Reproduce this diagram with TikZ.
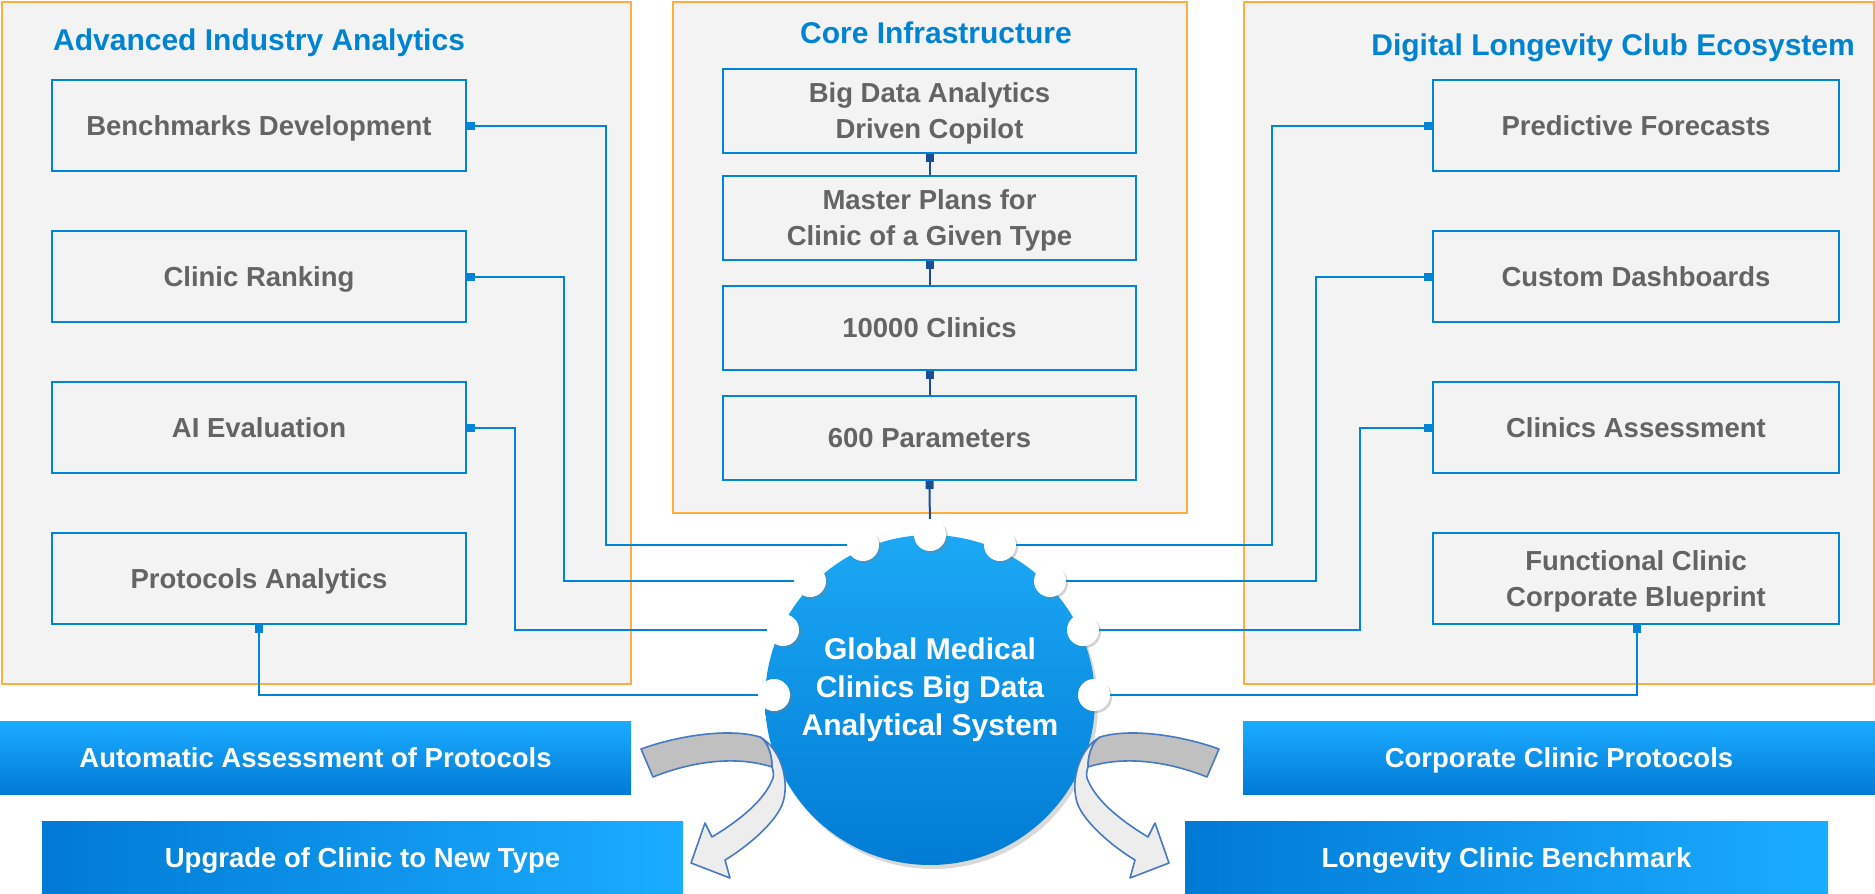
\documentclass[tikz,border=0pt]{standalone}
\usepackage{fontspec}
\setmainfont{Liberation Sans}
\usetikzlibrary{arrows.meta,shadows,shadings,calc}
\definecolor{panelfill}{RGB}{243,243,243}
\definecolor{panelline}{RGB}{255,172,64}
\definecolor{boxline}{RGB}{0,132,215}
\definecolor{titleblue}{RGB}{0,132,210}
\definecolor{textgray}{RGB}{100,100,100}
\definecolor{connblue}{RGB}{0,132,215}
\definecolor{coreblue}{RGB}{25,78,148}
\definecolor{lightblue}{RGB}{27,172,255}
\definecolor{darkblue}{RGB}{0,122,212}
\definecolor{hubtop}{RGB}{28,168,245}
\definecolor{hubbot}{RGB}{0,124,212}
\definecolor{arrowline}{RGB}{70,122,196}
\definecolor{backgray}{RGB}{192,192,192}
\definecolor{frontgray}{RGB}{237,237,237}
\begin{document}
\begin{tikzpicture}[x=1pt,y=-1pt,
  panel/.style={draw=panelline, fill=panelfill, line width=2pt},
  ibox/.style={draw=boxline, fill=panelfill, line width=2pt, minimum height=91pt,
    inner sep=0pt, align=center, text=textgray, text depth=0pt,
    font=\bfseries\fontsize{27.5}{36}\selectfont},
  cbox/.style={ibox, minimum width=413pt, minimum height=84pt},
  lbox/.style={ibox, minimum width=414pt},
  rbox/.style={ibox, minimum width=406pt},
  paneltitle/.style={inner sep=0pt, text=titleblue, font=\bfseries\fontsize{30}{36}\selectfont},
  conn/.style={draw=connblue, line width=2pt, -{Square[length=8pt,width=8pt]}},
  cconn/.style={draw=coreblue, line width=2pt, -{Square[length=8pt,width=8pt]}},
  wdot/.style={circle, fill=white, draw=none, minimum size=32pt, inner sep=0pt,
    drop shadow={shadow xshift=2pt, shadow yshift=-2pt, opacity=0.35}},
  banner/.style={draw=none, minimum height=73pt, inner sep=0pt, text=white, text depth=0pt,
    font=\bfseries\fontsize{27.5}{34}\selectfont},
  bandline/.style={draw=arrowline, line width=1.6pt, line join=round}
]
\useasboundingbox (0,0) rectangle (1875,894);

% panels
\draw[panel] (1.5,1.5) rectangle (631,684);
\draw[panel] (673,1.5) rectangle (1187,513);
\draw[panel] (1244,1.5) rectangle (1873.5,684);

% titles
\node[paneltitle, anchor=west] (t1) at (53,42.5) {Advanced Industry Analytics};
\node[paneltitle] (t2) at (936,33) {Core Infrastructure};
\node[paneltitle, anchor=east] (t3) at (1855,47.5) {Digital Longevity Club Ecosystem};

% left boxes
\node[lbox] (l1) at (259,125.5) {Benchmarks Development};
\node[lbox] (l2) at (259,276.5) {Clinic Ranking};
\node[lbox] (l3) at (259,427.5) {AI Evaluation};
\node[lbox] (l4) at (259,578.5) {Protocols Analytics};

% right boxes
\node[rbox] (r1) at (1636,125.5) {Predictive Forecasts};
\node[rbox] (r2) at (1636,276.5) {Custom Dashboards};
\node[rbox] (r3) at (1636,427.5) {Clinics Assessment};
\node[rbox] (r4) at (1636,578.5) {Functional Clinic\\Corporate Blueprint};

% center boxes
\node[cbox] (c1) at (929.5,111) {Big Data Analytics\\Driven Copilot};
\node[cbox] (c2) at (929.5,217.5) {Master Plans for\\Clinic of a Given Type};
\node[cbox] (c3) at (929.5,328) {10000 Clinics};
\node[cbox] (c4) at (929.5,438) {600 Parameters};

% banners
\node[banner, minimum width=631pt, top color=lightblue, bottom color=darkblue] (b1) at (315.5,758) {Automatic Assessment of Protocols};
\node[banner, minimum width=641pt, left color=darkblue, right color=lightblue] (b2) at (362.5,857.5) {Upgrade of Clinic to New Type};
\node[banner, minimum width=632pt, top color=lightblue, bottom color=darkblue] (b3) at (1559,758) {Corporate Clinic Protocols};
\node[banner, minimum width=643pt, left color=darkblue, right color=lightblue] (b4) at (1506.5,857.5) {Longevity Clinic Benchmark};

% hub
\node[circle, minimum size=330pt, inner sep=0pt, draw=none, top color=hubtop, bottom color=hubbot,
  drop shadow={shadow xshift=3pt, shadow yshift=-4pt, opacity=0.3}] (hub) at (930,700) {};
\node[inner sep=0pt, align=center, text=white, font=\bfseries\fontsize{30}{38}\selectfont] (hubtext) at (930,690)
  {Global Medical\\Clinics Big Data\\Analytical System};

% white dots
\node[wdot] (wt) at (930,535) {};
\node[wdot] (wl1) at (863,545) {};
\node[wdot] (wl2) at (810,581) {};
\node[wdot] (wl3) at (783,630) {};
\node[wdot] (wl4) at (774,695) {};
\node[wdot] (wr1) at (1000,545) {};
\node[wdot] (wr2) at (1050,581) {};
\node[wdot] (wr3) at (1083,630) {};
\node[wdot] (wr4) at (1094,695) {};

% connectors left
\draw[conn] (wl1) -| ($(l1.east)+(139,0)$) -- (l1.east);
\draw[conn] (wl2) -| ($(l2.east)+(97,0)$) -- (l2.east);
\draw[conn] (wl3) -| ($(l3.east)+(48,0)$) -- (l3.east);
\draw[conn] (wl4) -| (l4.south);
% connectors right
\draw[conn] (wr1) -| ($(r1.west)+(-160,0)$) -- (r1.west);
\draw[conn] (wr2) -| ($(r2.west)+(-116,0)$) -- (r2.west);
\draw[conn] (wr3) -| ($(r3.west)+(-72,0)$) -- (r3.west);
\draw[conn] (wr4) -| ($(r4.south)+(1,0)$);
% core connectors
\draw[cconn] (c2.north) -- (c1.south);
\draw[cconn] (c3.north) -- (c2.south);
\draw[cconn] (c4.north) -- (c3.south);
\draw[cconn] (wt) -- (c4.south);

% curved arrows
\newcommand{\bentarrow}{%
  \draw[bandline, fill=frontgray] (760,737) .. controls (783,750) and (790,785) .. (782,805)
    .. controls (775,822) and (750,845) .. (725,860) -- (730,878) -- (691,863) -- (705,823)
    -- (712,837) .. controls (740,820) and (765,800) .. (773,778)
    .. controls (774,774) and (773,770) .. (772,767)
    .. controls (772,755) and (768,742) .. (760,737) -- cycle;
  \draw[bandline, fill=backgray] (641,749) .. controls (680,735) and (730,728) .. (760,737)
    .. controls (768,742) and (772,755) .. (772,767)
    .. controls (735,755) and (690,762) .. (653,777) -- cycle;
}
\bentarrow
\begin{scope}[shift={(1860,0)}, xscale=-1]
\bentarrow
\end{scope}
\end{tikzpicture}
\end{document}
